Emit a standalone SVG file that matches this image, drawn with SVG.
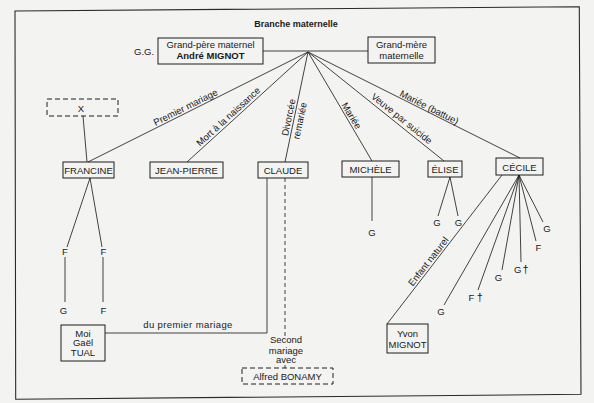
<svg xmlns="http://www.w3.org/2000/svg" width="594" height="403" viewBox="0 0 594 403">
<style>
  .bg{fill:#f3f3f1}
  .frame{fill:none;stroke:#2a2a2a;stroke-width:1.1}
  .box{fill:none;stroke:#1e1e1e;stroke-width:1}
  .dash{stroke-dasharray:5 3}
  .vdash{stroke-dasharray:4 3}
  .ln{fill:none;stroke:#222;stroke-width:0.85}
  text{font-family:"Liberation Sans",Arial,Helvetica,sans-serif;font-size:9.5px;fill:#1a1a1a}
  .c{text-anchor:middle}
  .b{font-weight:bold}
  .lab{font-size:9.5px}
</style>
<rect class="bg" x="0" y="0" width="594" height="403"/>
<path class="frame" d="M15,11 L579.3,6.7 L581,394.3 L15.7,399.3 Z"/>
<text class="c b" x="296" y="26.5" style="font-size:9px">Branche maternelle</text>
<text x="134" y="55">G.G.</text>

<g id="connectors">
  <path class="ln" d="M263,51 H368"/>
  <path class="ln" d="M308,52 L88,162"/>
  <path class="ln" d="M308,52 L187,162"/>
  <path class="ln" d="M308,52 L285,162"/>
  <path class="ln" d="M308,52 L372,161"/>
  <path class="ln" d="M308,52 L444,161"/>
  <path class="ln" d="M308,52 L520,158"/>
  <path class="ln" d="M83,116 L87,162"/>
  <path class="ln" d="M90,178 L67,247 M90,178 L102,247"/>
  <path class="ln" d="M65,257 V302 M103,257 V302"/>
  <path class="ln" d="M267,178 V333 H105"/>
  <path class="ln vdash" d="M285,178 V337"/>
  <path class="ln" d="M285,365 V368"/>
  <path class="ln" d="M372,177 V221"/>
  <path class="ln" d="M450,177 L438,216 M450,177 L458,216"/>
  <path class="ln" d="M502,175 L387,324"/>
  <path class="ln" d="M519,175 L543,222 M519,175 L536,241 M519,175 L521,262 M519,175 L502,270 M519,175 L478,290 M519,175 L444,305"/>
  <text class="c lab" transform="translate(187,110.2) rotate(-26.6)">Premier mariage</text>
  <text class="c lab" transform="translate(230.5,119) rotate(-42.3)">Mort à la naissance</text>
  <text class="c lab" transform="translate(291.8,118) rotate(-78.2)">Divorcée</text>
  <text class="c lab" transform="translate(303,121.5) rotate(-78.2)">remariée</text>
  <text class="c lab" transform="translate(348.7,117.4) rotate(59.6)">Mariée</text>
  <text class="c lab" transform="translate(399.7,121.1) rotate(38.7)">Veuve par suicide</text>
  <text class="c lab" transform="translate(427.7,110.2) rotate(26.8)">Mariée (battue)</text>
  <text class="c lab" transform="translate(431,263.5) rotate(-52.1)">Enfant naturel</text>
  <text class="c lab" x="188" y="328" style="letter-spacing:0.4px">du premier mariage</text>
  <text class="c lab" x="286" y="343">Second</text>
  <text class="c lab" x="286" y="353.5">mariage</text>
  <text class="c lab" x="286" y="363">avec</text>
</g>

<g id="grand-pere">
  <rect class="box" x="158" y="38" width="105" height="26"/>
  <text class="c" x="210.5" y="47.7">Grand-père maternel</text>
  <text class="c b" x="210.5" y="59.4">André MIGNOT</text>
</g>
<g id="grand-mere">
  <rect class="box" x="368" y="37" width="67" height="26"/>
  <text class="c" x="401.5" y="47.7">Grand-mère</text>
  <text class="c" x="401.5" y="58.7">maternelle</text>
</g>
<g id="x">
  <rect class="box dash" x="47" y="99" width="71" height="17"/>
  <text class="c" x="81" y="111.5">X</text>
</g>
<g id="francine">
  <rect class="box" x="63" y="162" width="51" height="16"/>
  <text class="c" x="88.5" y="173.8">FRANCINE</text>
</g>
<g id="jean-pierre">
  <rect class="box" x="150" y="162" width="73" height="16"/>
  <text class="c" x="186.5" y="173.8">JEAN-PIERRE</text>
</g>
<g id="claude">
  <rect class="box" x="258" y="162" width="50" height="16"/>
  <text class="c" x="283" y="173.8">CLAUDE</text>
</g>
<g id="michele">
  <rect class="box" x="342" y="161" width="57" height="16"/>
  <text class="c" x="370.5" y="172.6">MICHÈLE</text>
</g>
<g id="elise">
  <rect class="box" x="428" y="161" width="34" height="16"/>
  <text class="c" x="445" y="172.6">ÉLISE</text>
</g>
<g id="cecile">
  <rect class="box" x="496" y="158" width="47" height="17"/>
  <text class="c" x="519.5" y="170.8">CÉCILE</text>
</g>
<g id="moi">
  <rect class="box" x="61" y="325" width="44" height="36"/>
  <text class="c" x="83" y="336.7">Moi</text>
  <text class="c" x="83" y="346.3">Gaël</text>
  <text class="c" x="83" y="356.3">TUAL</text>
</g>
<g id="yvon">
  <rect class="box" x="387" y="324" width="41" height="29"/>
  <text class="c" x="407.5" y="336.7">Yvon</text>
  <text class="c" x="407.5" y="347.8">MIGNOT</text>
</g>
<g id="alfred">
  <rect class="box dash" x="242" y="368" width="91" height="16"/>
  <text class="c" x="287.5" y="379.5">Alfred BONAMY</text>
</g>

<g id="francine-f1"><text class="c" x="65" y="255">F</text></g>
<g id="francine-f2"><text class="c" x="103.5" y="255">F</text></g>
<g id="f1-g"><text class="c" x="63.5" y="313.5">G</text></g>
<g id="f2-f"><text class="c" x="103.5" y="313.5">F</text></g>
<g id="michele-g"><text class="c" x="372" y="236">G</text></g>
<g id="elise-g1"><text class="c" x="437" y="226">G</text></g>
<g id="elise-g2"><text class="c" x="458.5" y="225.5">G</text></g>
<g id="cecile-g1"><text class="c" x="547" y="232">G</text></g>
<g id="cecile-f1"><text class="c" x="538.5" y="251">F</text></g>
<g id="cecile-g2"><text x="514" y="272.5">G<tspan dx="1" style="font-size:11px">†</tspan></text></g>
<g id="cecile-g3"><text class="c" x="498.5" y="280.5">G</text></g>
<g id="cecile-f2"><text x="468.5" y="300.5">F<tspan dx="2.5" style="font-size:11px">†</tspan></text></g>
<g id="cecile-g4"><text class="c" x="441" y="315">G</text></g>
</svg>
